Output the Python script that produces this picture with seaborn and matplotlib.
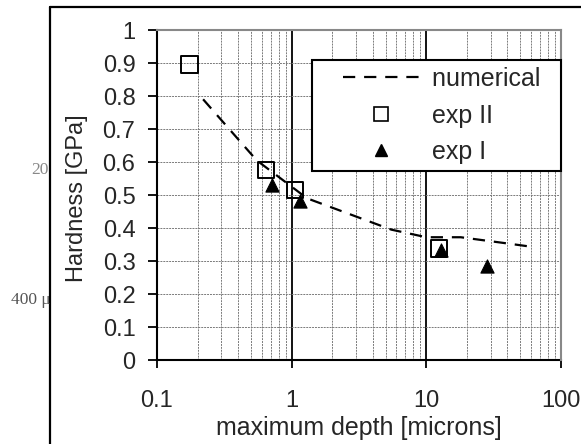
import numpy as np
import pandas as pd
import matplotlib
matplotlib.use("Agg")
import matplotlib.pyplot as plt
from matplotlib.lines import Line2D
from matplotlib.legend_handler import HandlerLine2D
from matplotlib.ticker import FixedLocator, LogLocator, NullFormatter
import seaborn as sns

# numerical curve
num_depth = [0.22, 0.55, 1.3, 5.5, 10, 18, 37, 56]
num_hard = [0.79, 0.605, 0.49, 0.395, 0.372, 0.372, 0.355, 0.345]
# exp II (open squares)
exp2_depth = [0.174, 0.643, 1.06, 12.4]
exp2_hard = [0.895, 0.576, 0.515, 0.338]
# exp I (filled triangles)
exp1_depth = [0.71, 1.15, 12.8, 28.2]
exp1_hard = [0.529, 0.483, 0.333, 0.285]

x_ticks = [0.1, 1, 10, 100]
x_labels = ["0.1", "1", "10", "100"]
y_ticks = [0, 0.1, 0.2, 0.3, 0.4, 0.5, 0.6, 0.7, 0.8, 0.9, 1.0]
y_labels = ["0", "0.1", "0.2", "0.3", "0.4", "0.5", "0.6", "0.7", "0.8", "0.9", "1"]
legend_labels = ["numerical", "exp II", "exp I"]

sns.set_theme(style="white")
plt.rcParams["font.family"] = ["Liberation Sans", "DejaVu Sans"]
FS = 17
LFS = 18

df_num = pd.DataFrame({"depth": num_depth, "hard": num_hard})
df_e2 = pd.DataFrame({"depth": exp2_depth, "hard": exp2_hard})
df_e1 = pd.DataFrame({"depth": exp1_depth, "hard": exp1_hard})

fig = plt.figure(figsize=(5.81, 4.44), dpi=100)
ax = fig.add_axes([157 / 581, 1 - 360 / 444, 404 / 581, 330 / 444])
ax.set_xscale("log")

sns.lineplot(data=df_num, x="depth", y="hard", ax=ax, color="black",
             linewidth=1.6, linestyle=(0, (5.5, 4)), sort=False, zorder=3)
sns.scatterplot(data=df_e2, x="depth", y="hard", ax=ax, marker="s", s=144,
                facecolors="none", edgecolor="black", linewidth=1.4, zorder=4)
sns.scatterplot(data=df_e1, x="depth", y="hard", ax=ax, marker="^", s=90,
                color="black", edgecolor="black", linewidth=0.8, zorder=5)

ax.set_xlim(0.1, 100)
ax.set_ylim(0, 1)
ax.xaxis.set_major_locator(FixedLocator(x_ticks))
ax.set_xticklabels(x_labels)
ax.xaxis.set_minor_locator(LogLocator(base=10, subs=np.arange(2, 10)))
ax.xaxis.set_minor_formatter(NullFormatter())
ax.set_yticks(y_ticks)
ax.set_yticklabels(y_labels)

# grid
ax.set_axisbelow(True)
ax.grid(which="minor", axis="x", color="#7a7a7a", linestyle=(0, (2, 1)), linewidth=0.7)
ax.grid(which="major", axis="y", color="#7a7a7a", linestyle=(0, (2, 1)), linewidth=0.7)
ax.grid(which="major", axis="x", color="black", linestyle="-", linewidth=1.3)

for side in ["left", "bottom"]:
    ax.spines[side].set_color("black")
    ax.spines[side].set_linewidth(1.5)
for side in ["top", "right"]:
    ax.spines[side].set_color("#888888")
    ax.spines[side].set_linewidth(1.5)
    ax.spines[side].set_zorder(2.6)

ax.tick_params(axis="y", which="major", direction="out", length=6.5, width=1.3,
               color="black", labelsize=FS, pad=9, left=True)
ax.tick_params(axis="x", which="major", direction="out", length=5.5, width=1.3,
               color="black", labelsize=FS, pad=16, bottom=True)
ax.tick_params(axis="x", which="minor", length=0)

ax.set_xlabel("maximum depth [microns]", fontsize=LFS)
ax.set_ylabel("Hardness [GPa]", fontsize=FS)
ax.xaxis.set_label_coords(0.5, -0.17)
ax.yaxis.set_label_coords(-0.172, 0.49)

handles = [
    Line2D([], [], color="black", linewidth=1.6, linestyle=(0, (5.5, 4))),
    Line2D([], [], color="black", marker="s", markersize=10, markerfacecolor="none",
           markeredgewidth=1.2, linestyle="none"),
    Line2D([], [], color="black", marker="^", markersize=9, linestyle="none"),
]
hmap = {h: HandlerLine2D(xpad=0.95) for h in handles}
leg = ax.legend(handles, [s + "  " for s in legend_labels], loc="upper left",
                bbox_to_anchor=(155 / 404, 300 / 330), fontsize=LFS, frameon=True,
                fancybox=False, framealpha=1, edgecolor="black", handler_map=hmap,
                handlelength=4.0, handletextpad=0.5, labelspacing=0.5,
                borderpad=0.28, borderaxespad=0)
leg.get_frame().set_linewidth(1.5)
leg.set_zorder(6)

# outer chart frame (extends beyond the picture on the right and bottom)
fig.add_artist(Line2D([50 / 581, 50 / 581], [0, 1 - 7 / 444], color="black",
                      linewidth=1.6, transform=fig.transFigure))
fig.add_artist(Line2D([50 / 581, 1], [1 - 7 / 444, 1 - 7 / 444], color="black",
                      linewidth=1.6, transform=fig.transFigure))

# stray text fragments at the left edge
fig.text(49 / 581, 1 - 170 / 444, "20", fontsize=12.5, color="#888888",
         family=["Liberation Serif", "DejaVu Serif"], ha="right", va="center")
fig.text(51 / 581, 1 - 300 / 444, "400 \u03bc", fontsize=12.5, color="#555555",
         family=["Liberation Serif", "DejaVu Serif"], ha="right", va="center")

fig.savefig("out.png", dpi=100)
